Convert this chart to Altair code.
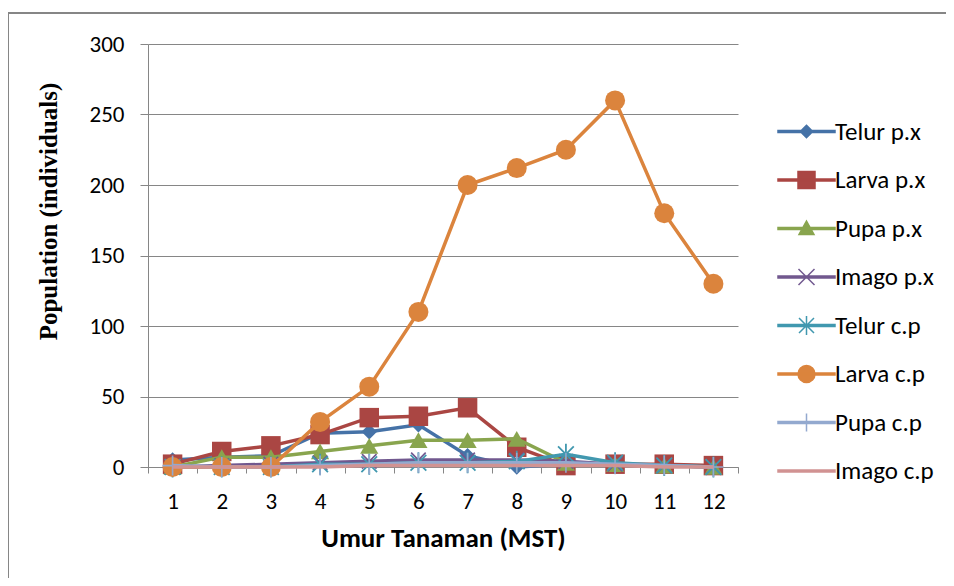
import altair as alt
import pandas as pd

weeks = list(range(1, 13))
series_names = ["Telur p.x", "Larva p.x", "Pupa p.x", "Imago p.x",
                "Telur c.p", "Larva c.p", "Pupa c.p", "Imago c.p"]

telur_px = [5, 7, 8, 24, 25, 30, 8, 0, 2, 2, 1, 0]
larva_px = [2, 11, 15, 23, 35, 36, 42, 14, 1, 2, 2, 1]
pupa_px = [0, 7, 7, 11, 15, 19, 19, 20, 3, 2, 1, 0]
imago_px = [0, 1, 2, 3, 4, 5, 5, 5, 4, 2, 1, 0]
telur_cp = [0, 0, 0, 2, 2, 3, 3, 4, 9, 3, 1, 0]
larva_cp = [0, 0, 0, 32, 57, 110, 200, 212, 225, 260, 180, 130]
pupa_cp = [1, 0, 0, 1, 2, 3, 3, 3, 3, 2, 1, 0]
imago_cp = [0, 0, 0, 0, 1, 1, 1, 1, 1, 1, 0, 0]

all_values = [telur_px, larva_px, pupa_px, imago_px, telur_cp, larva_cp, pupa_cp, imago_cp]
y_ticks = [0, 50, 100, 150, 200, 250, 300]

colors = ["#4572A7", "#AA4643", "#89A54E", "#71588F",
          "#4198AF", "#DB843D", "#93A9CF", "#D19392"]

X_PATH = "M-0.8,-0.8L0.8,0.8M-0.8,0.8L0.8,-0.8"
STAR_PATH = "M-0.75,-0.75L0.75,0.75M-0.75,0.75L0.75,-0.75M0,-1V1"
PLUS_PATH = "M0,-1V1M-1,0H1"

# (shape, filled, size, strokeWidth)
markers = [
    ("diamond", True, 240, 0),
    ("square", True, 380, 0),
    ("triangle-up", True, 330, 0),
    (X_PATH, False, 330, 1.6),
    (STAR_PATH, False, 440, 1.8),
    ("circle", True, 400, 0),
    (PLUS_PATH, False, 400, 1.6),
    None,
]

LINE = "M-2.85,-0.1H2.85V0.1H-2.85Z"
legend_paths = [
    LINE + "M0,-0.62L0.62,0L0,0.62L-0.62,0Z",
    LINE + "M-0.85,-0.85H0.85V0.85H-0.85Z",
    LINE + "M0,-0.75L0.75,0.6H-0.75Z",
    LINE + "M-0.8,-0.8L0.8,0.8M-0.8,0.8L0.8,-0.8",
    LINE + "M-0.75,-0.75L0.75,0.75M-0.75,0.75L0.75,-0.75M0,-0.95V0.95",
    LINE + "M-0.85,0A0.85,0.85 0 1,1 0.85,0A0.85,0.85 0 1,1 -0.85,0Z",
    LINE + "M0,-0.9V0.9",
    LINE,
]

rows = []
for name, vals in zip(series_names, all_values):
    for w, v in zip(weeks, vals):
        rows.append({"week": w, "series": name, "value": v})
df = pd.DataFrame(rows)

FONT = "Carlito, Lato"
GRAY = "#868686"

xenc = alt.X(
    "week:O",
    title="Umur Tanaman (MST)",
    scale=alt.Scale(type="band", paddingInner=0, paddingOuter=0),
    axis=alt.Axis(labelAngle=0, tickBand="extent", grid=False, tickSize=6,
                  labelPadding=17, titleY=71, titleBaseline="middle"),
)
yenc = alt.Y(
    "value:Q",
    title="Population (individuals)",
    scale=alt.Scale(domain=[0, 300], nice=False),
    axis=alt.Axis(values=y_ticks, grid=True, tickSize=8, labelPadding=16,
                  titleX=-100, titleY=167, titleAngle=270, titleAlign="center",
                  titleBaseline="middle", titleFont="Liberation Serif",
                  titleFontSize=25, titleFontWeight="bold"),
)

base = alt.Chart(df)
layers = []

frame = alt.Chart(pd.DataFrame({"k": [0]}))
layers.append(frame.mark_rule(color=GRAY, strokeWidth=2).encode(
    x=alt.value(-140), x2=alt.value(806), y=alt.value(-31)))
layers.append(frame.mark_rule(color=GRAY, strokeWidth=2).encode(
    x=alt.value(-140), y=alt.value(-31), y2=alt.value(542)))

for name, color, mk in zip(series_names, colors, markers):
    sub = base.transform_filter(alt.datum.series == name)
    layers.append(sub.mark_line(color=color, strokeWidth=3.5).encode(x=xenc, y=yenc))
    if mk is not None:
        shape, filled, size, sw = mk
        if filled:
            pm = sub.mark_point(shape=shape, filled=True, color=color, size=size, opacity=1)
        else:
            pm = sub.mark_point(shape=shape, filled=False, color=color, size=size,
                                strokeWidth=sw, opacity=1)
        layers.append(pm.encode(x=xenc, y=yenc))

legend_def = alt.Legend(
    title=None, orient="none", legendX=646, legendY=75, padding=0,
    symbolOffset=0, symbolSize=400, symbolStrokeWidth=1.5, rowPadding=22.5,
    labelOffset=16, labelFont=FONT, labelFontSize=25, labelColor="#000000",
    labelLimit=300,
)
legend_layer = base.transform_filter(alt.datum.value < -1000).mark_point(
    filled=True, opacity=1, strokeWidth=1.5
).encode(
    x=xenc, y=yenc,
    color=alt.Color("series:N", scale=alt.Scale(domain=series_names, range=colors), legend=legend_def),
    stroke=alt.Stroke("series:N", scale=alt.Scale(domain=series_names, range=colors), legend=legend_def),
    shape=alt.Shape("series:N", scale=alt.Scale(domain=series_names, range=legend_paths), legend=legend_def),
)
layers.append(legend_layer)

chart = alt.layer(*layers).properties(
    width=590, height=423,
    autosize=alt.AutoSizeParams(type="none"),
    padding={"left": 140, "top": 36, "right": 208, "bottom": 111},
).configure_view(stroke=None).configure_axis(
    domainColor=GRAY, tickColor=GRAY, gridColor=GRAY, gridWidth=1,
    labelFont=FONT, labelFontSize=23, labelColor="#000000",
    titleFont=FONT, titleFontSize=27, titleFontWeight="bold", titleColor="#000000",
)

chart.save("out.html", embed_options={"renderer": "svg", "actions": False})
